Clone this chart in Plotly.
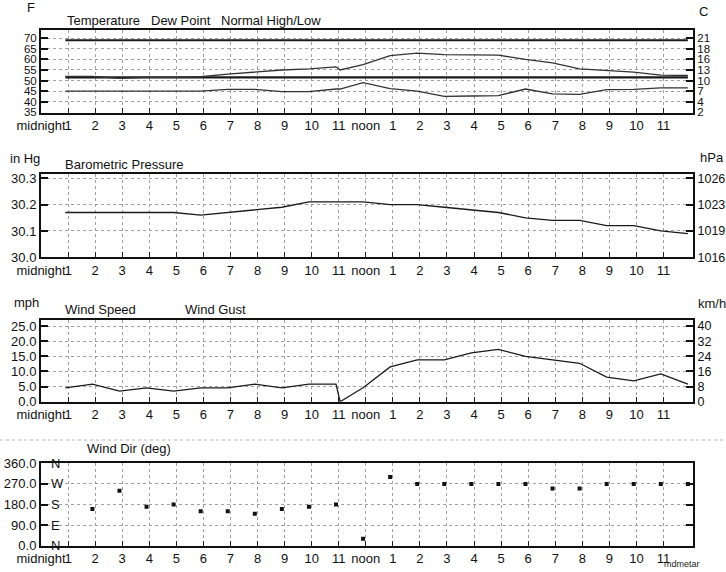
import plotly.graph_objects as go

# ---------------- data ----------------
obs_hours = [0.9, 1.9, 2.9, 3.9, 4.9, 5.9, 6.9, 7.9, 8.9, 9.9, 10.9, 11.05,
             11.9, 12.9, 13.9, 14.9, 15.9, 16.9, 17.9, 18.9, 19.9, 20.9, 21.9, 22.9, 23.9]
temperature_f = [52.0, 52.0, 51.0, 51.5, 51.5, 51.8, 53.0, 54.0, 55.0, 55.5, 56.5, 55.0,
                 57.5, 61.8, 63.0, 62.3, 62.3, 62.0, 60.0, 58.4, 55.5, 54.7, 54.0, 52.6, 52.4]
dew_point_f = [45.0, 45.0, 45.0, 45.0, 45.0, 45.0, 45.8, 45.8, 44.8, 44.8, 46.0, 46.0,
               49.0, 46.2, 45.0, 42.5, 42.7, 42.9, 46.0, 43.7, 43.5, 45.7, 45.8, 46.5, 46.5]
normal_hours = [0.9, 23.9]
normal_high_f = [69.0, 69.0]
normal_low_f = [51.5, 51.5]
pressure_inhg = [30.17, 30.17, 30.17, 30.17, 30.17, 30.16, 30.17, 30.18, 30.19, 30.21, 30.21, 30.21,
                 30.21, 30.20, 30.20, 30.19, 30.18, 30.17, 30.15, 30.14, 30.14, 30.12, 30.12, 30.10, 30.09]
wind_speed_mph = [4.6, 5.8, 3.5, 4.6, 3.5, 4.6, 4.6, 5.8, 4.6, 5.8, 5.8, 0.0,
                  4.6, 11.5, 13.8, 13.8, 16.1, 17.3, 15.0, 13.8, 12.7, 8.1, 6.9, 9.2, 5.8]
dir_hours = [1.9, 2.9, 3.9, 4.9, 5.9, 6.9, 7.9, 8.9, 9.9, 10.9, 11.9,
             12.9, 13.9, 14.9, 15.9, 16.9, 17.9, 18.9, 19.9, 20.9, 21.9, 22.9, 23.9]
wind_dir_deg = [160, 240, 170, 180, 150, 150, 140, 160, 170, 180, 30,
                300, 270, 270, 270, 270, 270, 250, 250, 270, 270, 270, 270]

hour_ticks = list(range(24))
hour_labels = ["midnight", "1", "2", "3", "4", "5", "6", "7", "8", "9", "10", "11",
               "noon", "1", "2", "3", "4", "5", "6", "7", "8", "9", "10", "11"]

temp_f_ticks = [35, 40, 45, 50, 55, 60, 65, 70]
temp_c_labels = ["2", "4", "7", "10", "13", "16", "18", "21"]
pres_ticks = [30.0, 30.1, 30.2, 30.3]
pres_labels = ["30.0", "30.1", "30.2", "30.3"]
hpa_labels = ["1016", "1019", "1023", "1026"]
wind_ticks = [0, 5, 10, 15, 20, 25]
wind_labels = ["0.0", "5.0", "10.0", "15.0", "20.0", "25.0"]
kmh_labels = ["0", "8", "16", "24", "32", "40"]
dir_ticks = [0, 90, 180, 270, 360]
dir_labels = ["0.0", "90.0", "180.0", "270.0", "360.0"]
compass_labels = ["N", "E", "S", "W", "N"]

# ---------------- layout helpers ----------------
W, H = 726, 572
FONT = "Liberation Sans, Arial, sans-serif"


def px(x):
    return x / W


def py(y):
    return 1 - y / H


xdom = [px(41), px(693)]
doms = [[py(112.5), py(30)], [py(257.3), py(174.3)], [py(401.7), py(320)], [py(545.7), py(463.3)]]

line_col = "#1a1a1a"
grid_style = dict(showgrid=True, gridcolor="#a0a0a0", griddash="dot", gridwidth=1)

r1 = [34.9, 73.9]
r2 = [30.0, 30.315]
r3 = [0, 27.0]
r4 = [0, 360]

fig = go.Figure()

# panel 1
fig.add_trace(go.Scatter(x=normal_hours, y=normal_high_f, mode="lines",
                         line=dict(color=line_col, width=2), xaxis="x", yaxis="y"))
fig.add_trace(go.Scatter(x=normal_hours, y=normal_low_f, mode="lines",
                         line=dict(color=line_col, width=2.2), xaxis="x", yaxis="y"))
fig.add_trace(go.Scatter(x=obs_hours, y=temperature_f, mode="lines",
                         line=dict(color="#333333", width=1.3), xaxis="x", yaxis="y"))
fig.add_trace(go.Scatter(x=obs_hours, y=dew_point_f, mode="lines",
                         line=dict(color="#333333", width=1.3), xaxis="x", yaxis="y"))
# panel 2
fig.add_trace(go.Scatter(x=obs_hours, y=pressure_inhg, mode="lines",
                         line=dict(color=line_col, width=1.3), xaxis="x2", yaxis="y3"))
# panel 3
fig.add_trace(go.Scatter(x=obs_hours, y=wind_speed_mph, mode="lines",
                         line=dict(color=line_col, width=1.3), xaxis="x3", yaxis="y5"))
# panel 4
fig.add_trace(go.Scatter(x=dir_hours, y=wind_dir_deg, mode="markers",
                         marker=dict(symbol="square", size=4, color="#111111"),
                         xaxis="x4", yaxis="y7"))

# invisible carriers so that the secondary (unit-conversion) axes are drawn
for xa, ya in [("x", "y2"), ("x2", "y4"), ("x3", "y6"), ("x4", "y9")]:
    fig.add_trace(go.Scatter(x=[None], y=[None], mode="markers", hoverinfo="skip",
                             showlegend=False, xaxis=xa, yaxis=ya))

tick_font = dict(family=FONT, size=13, color="#111111")


def xaxis(anchor):
    return dict(domain=xdom, anchor=anchor, range=[0, 24.09], tickmode="array",
                tickvals=hour_ticks, ticktext=hour_labels, tickangle=0, automargin=False,
                ticks="inside", ticklen=5, tickcolor="#222", showline=True,
                linecolor="#111", linewidth=2, mirror=True, zeroline=False,
                tickfont=tick_font, **grid_style)


def yleft(dom, anchor, rng, vals, text, size=13):
    return dict(domain=dom, anchor=anchor, range=rng, tickmode="array", tickvals=vals,
                ticktext=text, ticks="inside", ticklen=7, tickcolor="#111", tickwidth=1.5,
                showline=True, linecolor="#111", linewidth=2, zeroline=False, automargin=False,
                tickfont=dict(family=FONT, size=size, color="#111"), **grid_style)


def yright(over, anchor, rng, vals, text, size=12.5, labels=True):
    return dict(overlaying=over, anchor=anchor, side="right", range=rng, tickmode="array",
                tickvals=vals, ticktext=text, ticks="inside", ticklen=7, tickcolor="#111",
                tickwidth=1.5, showline=True, linecolor="#111", linewidth=2, automargin=False,
                showgrid=False, zeroline=False, showticklabels=labels,
                tickfont=dict(family=FONT, size=size, color="#111"))


fig.update_layout(
    width=W, height=H, autosize=False,
    margin=dict(l=0, r=0, t=0, b=0, pad=0),
    paper_bgcolor="white", plot_bgcolor="white",
    showlegend=False,
    xaxis=xaxis("y"), xaxis2=xaxis("y3"), xaxis3=xaxis("y5"), xaxis4=xaxis("y7"),
    yaxis=yleft(doms[0], "x", r1, temp_f_ticks, [str(v) for v in temp_f_ticks], size=11.5),
    yaxis2=yright("y", "x", r1, temp_f_ticks, temp_c_labels, size=11.5),
    yaxis3=yleft(doms[1], "x2", r2, pres_ticks, pres_labels),
    yaxis4=yright("y3", "x2", r2, pres_ticks, hpa_labels),
    yaxis5=yleft(doms[2], "x3", r3, wind_ticks, wind_labels),
    yaxis6=yright("y5", "x3", r3, wind_ticks, kmh_labels),
    yaxis7=yleft(doms[3], "x4", r4, dir_ticks, dir_labels),
    yaxis9=yright("y7", "x4", r4, dir_ticks, dir_labels, labels=False),
)

ann_font = dict(family=FONT, size=13, color="#111")
texts = [
    ("F", 31, 8, "center"), ("C", 703, 12, "center"),
    ("Temperature", 65, 21, "left"), ("Dew Point", 149, 21, "left"),
    ("Normal High/Low", 219, 21, "left"),
    ("in Hg", 8, 158, "left"), ("Barometric Pressure", 63, 165, "left"), ("hPa", 698, 157, "left"),
    ("mph", 12, 302, "left"), ("Wind Speed", 63, 309, "left"), ("Wind Gust", 183, 309, "left"),
    ("km/h", 696, 303, "left"),
    ("Wind Dir (deg)", 85, 448, "left"),
]
annotations = []
for t, x, y, anc in texts:
    annotations.append(dict(text=t, x=px(x), y=py(y), xref="paper", yref="paper",
                            xanchor=anc, yanchor="middle", showarrow=False, font=ann_font))
# compass letters inside the wind-direction panel, placed on the axis scale
for v, lab in zip(dir_ticks, compass_labels):
    annotations.append(dict(text=lab, x=0.013, y=v, xref="x4 domain", yref="y7",
                            xanchor="left", yanchor="middle", showarrow=False, font=ann_font))
annotations.append(dict(text="mdmetar", x=px(662), y=py(564), xref="paper", yref="paper",
                        xanchor="left", yanchor="middle", showarrow=False,
                        font=dict(family=FONT, size=9, color="#222")))
fig.update_layout(annotations=annotations)

fig.add_shape(type="line", xref="paper", yref="paper", x0=0, x1=1, y0=py(440), y1=py(440),
              line=dict(color="#b5b5b5", width=1, dash="dot"))

fig.write_html("out.html", config={"displayModeBar": False},
               post_script="document.body.style.margin='0';document.body.style.overflow='hidden';")
